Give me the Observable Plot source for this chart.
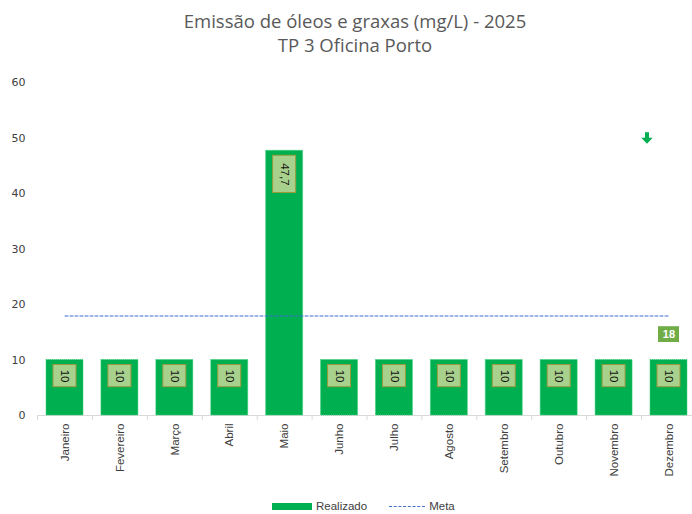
<!DOCTYPE html>
<html><head><meta charset="utf-8">
<script src="https://cdn.jsdelivr.net/npm/d3@7"></script>
<script src="https://cdn.jsdelivr.net/npm/@observablehq/plot@0.6"></script>
<style>
body{margin:0;background:#fff;width:692px;height:514px;overflow:hidden;position:relative;font-family:"Open Sans",sans-serif;}
#title{position:absolute;top:9px;left:0;width:710px;text-align:center;color:#595959;font-size:18.5px;line-height:24px;}
#chart{position:absolute;top:60px;left:0;}
#legend{position:absolute;top:500px;left:272px;display:flex;align-items:center;font-family:"Liberation Sans",Arial,sans-serif;font-size:11.5px;color:#404040;}
.sw{width:40px;height:7px;background:#00b050;margin-right:4px;}
.dl{width:36px;border-top:1px dashed #4472c4;margin:0 4px 0 22px;}
</style></head>
<body>
<div id="title">Emissão de óleos e graxas (mg/L) - 2025<br>TP 3 Oficina Porto</div>
<div id="chart"></div>
<div id="legend"><div class="sw"></div><span>Realizado</span><div class="dl"></div><span>Meta</span></div>
<script>
const months = ["Janeiro","Fevereiro","Março","Abril","Maio","Junho","Julho","Agosto","Setembro","Outubro","Novembro","Dezembro"];
const realizado = [10,10,10,10,47.7,10,10,10,10,10,10,10];
const meta = [18,18,18,18,18,18,18,18,18,18,18,18];
const metaLabel = "18";
const trendArrowY = 50;
const yTicks = [0,10,20,30,40,50,60];

const data = months.map((m,i)=>({month:m, value:realizado[i], meta:meta[i], label:String(realizado[i]).replace(".",",")}));
const last = [data[data.length-1]];

// down-arrow symbol (size-scaled)
const downArrow = {
  draw(ctx, size) {
    const s = Math.sqrt(size) / 2;
    ctx.moveTo(-0.35 * s, -s);
    ctx.lineTo(0.35 * s, -s);
    ctx.lineTo(0.35 * s, -0.05 * s);
    ctx.lineTo(s, -0.05 * s);
    ctx.lineTo(0, s);
    ctx.lineTo(-s, -0.05 * s);
    ctx.lineTo(-0.35 * s, -0.05 * s);
    ctx.closePath();
  }
};

const chart = Plot.plot({
  width: 692, height: 435,
  marginTop: 22, marginBottom: 80, marginLeft: 37, marginRight: 0,
  style: {fontFamily: "DejaVu Sans", fontSize: "10px", color: "#404040", background: "transparent", overflow: "visible"},
  x: {domain: months, range: [37, 696], paddingInner: 0.326, paddingOuter: 0.164, round: false, label: null},
  y: {domain: [0, 60], ticks: yTicks, label: null},
  marks: [
    Plot.ruleY([0], {stroke: "#d9d9d9"}),
    Plot.ruleX([0], {x: () => 0, frameAnchor: "left", stroke: "#d9d9d9"}),
    Plot.ruleX(months, {x: d => d, y1: 0, y2: -0.9, dx: -27.45, stroke: "#d9d9d9"}),
    Plot.ruleX([months[months.length-1]], {x: d => d, y1: 0, y2: -0.9, dx: 27.45, stroke: "#d9d9d9"}),
    Plot.axisY({ticks: yTicks, tickSize: 0, tickPadding: 12, fontSize: 11, fill: "#404040"}),
    Plot.axisX({tickSize: 0, tickPadding: 8, tickRotate: -90, fontFamily: "Liberation Sans", fontSize: 11.5, fill: "#404040"}),
    Plot.barY(data, {x: "month", y: "value", fill: "#00b050", stroke: "#3fd07a", strokeWidth: 1, strokeDasharray: "1,1"}),
    Plot.barY(data, {x: "month", y1: d => d.value - 0.9, y2: d => d.value - (d.label.length > 2 ? 7.6 : 4.9), insetLeft: 7, insetRight: 7, fill: "#a9d18e", stroke: "#9a9a3c", strokeWidth: 1}),
    Plot.text(data, {x: "month", y: d => d.value - (d.label.length > 2 ? 4.25 : 2.9), text: "label", rotate: 90, fontSize: 11.5, fill: "#111", fontFamily: "Liberation Sans"}),
    Plot.line(data, {x: "month", y: "meta", dy: 0.4, stroke: "#3b6fd4", strokeWidth: 1, strokeDasharray: "3,2"}),
    Plot.barY(last, {x: "month", y1: d => d.meta - 2, y2: d => d.meta - 4.85, insetLeft: 8, insetRight: 8, fill: "#70ad47"}),
    Plot.text(last, {x: "month", y: "meta", dy: 19, text: () => metaLabel, fill: "#fff", fontSize: 11, fontWeight: "bold", fontFamily: "Liberation Sans"}),
    Plot.dot(last, {x: "month", y: () => trendArrowY, dx: -22, symbol: downArrow, r: 6.5, fill: "#00b050", stroke: "none"})
  ]
});
document.getElementById("chart").appendChild(chart);
</script>
</body></html>
